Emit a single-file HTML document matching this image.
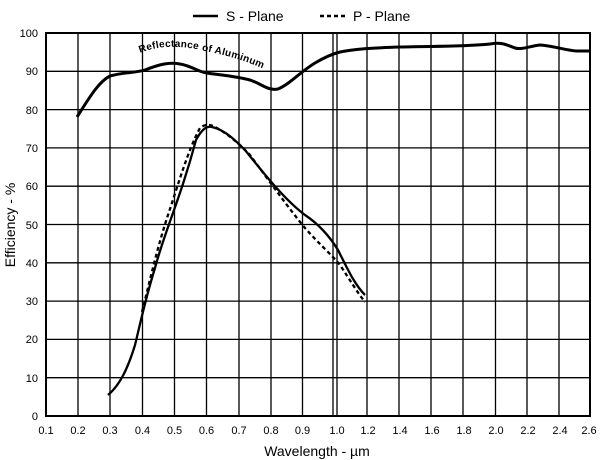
<!DOCTYPE html>
<html><head><meta charset="utf-8"><style>
body{margin:0;background:#fff;}
svg{display:block;font-family:"Liberation Sans",Arial,sans-serif;}
</style></head><body>
<svg width="600" height="460" viewBox="0 0 600 460">
<g stroke="#000" stroke-width="1.3">
<line x1="46" y1="71.3" x2="590" y2="71.3"/><line x1="46" y1="109.6" x2="590" y2="109.6"/>
<line x1="46" y1="147.9" x2="590" y2="147.9"/><line x1="46" y1="186.2" x2="590" y2="186.2"/>
<line x1="46" y1="224.5" x2="590" y2="224.5"/><line x1="46" y1="262.8" x2="590" y2="262.8"/>
<line x1="46" y1="301.1" x2="590" y2="301.1"/><line x1="46" y1="339.4" x2="590" y2="339.4"/>
<line x1="46" y1="377.7" x2="590" y2="377.7"/>
<line x1="78" y1="33" x2="78" y2="416"/><line x1="110" y1="33" x2="110" y2="416"/>
<line x1="142.5" y1="33" x2="142.5" y2="416"/><line x1="174.5" y1="33" x2="174.5" y2="416"/>
<line x1="206.5" y1="33" x2="206.5" y2="416"/><line x1="239" y1="33" x2="239" y2="416"/>
<line x1="271" y1="33" x2="271" y2="416"/><line x1="302.5" y1="33" x2="302.5" y2="416"/>
<line x1="333" y1="33" x2="333" y2="416"/><line x1="337" y1="33" x2="337" y2="416"/>
<line x1="367" y1="33" x2="367" y2="416"/><line x1="399" y1="33" x2="399" y2="416"/>
<line x1="431" y1="33" x2="431" y2="416"/><line x1="463" y1="33" x2="463" y2="416"/>
<line x1="495.5" y1="33" x2="495.5" y2="416"/><line x1="527" y1="33" x2="527" y2="416"/>
<line x1="559" y1="33" x2="559" y2="416"/>
</g>
<rect x="46" y="33" width="544" height="383" fill="none" stroke="#000" stroke-width="2"/>
<g font-size="11" text-anchor="end">
<text x="38" y="37">100</text><text x="38" y="75">90</text><text x="38" y="114">80</text>
<text x="38" y="152">70</text><text x="38" y="190">60</text><text x="38" y="229">50</text>
<text x="38" y="267">40</text><text x="38" y="305">30</text><text x="38" y="343">20</text>
<text x="38" y="382">10</text><text x="38" y="420">0</text>
</g>
<g font-size="11" text-anchor="middle">
<text x="46" y="434">0.1</text><text x="78" y="434">0.2</text><text x="110" y="434">0.3</text>
<text x="142.5" y="434">0.4</text><text x="174.5" y="434">0.5</text><text x="206.5" y="434">0.6</text>
<text x="239" y="434">0.7</text><text x="271" y="434">0.8</text><text x="302.5" y="434">0.9</text>
<text x="337" y="434">1.0</text><text x="368" y="434">1.2</text><text x="400" y="434">1.4</text>
<text x="432" y="434">1.6</text><text x="464" y="434">1.8</text><text x="496" y="434">2.0</text>
<text x="528" y="434">2.2</text><text x="560" y="434">2.4</text><text x="589" y="434">2.6</text>
</g>
<text x="317" y="456" font-size="14" text-anchor="middle">Wavelength - µm</text>
<text transform="translate(15,225) rotate(-90)" font-size="14" text-anchor="middle">Efficiency - %</text>
<line x1="193" y1="16" x2="218" y2="16" stroke="#000" stroke-width="2.5"/>
<text x="226" y="21" font-size="14">S - Plane</text>
<line x1="320" y1="16" x2="345" y2="16" stroke="#000" stroke-width="2.5" stroke-dasharray="4,3"/>
<text x="353" y="21" font-size="14">P - Plane</text>
<g fill="none" stroke="#000" stroke-width="3" stroke-linejoin="round">
<path d="M77,117 C88,100 98,82 110,76 C125,72 135,73 145,70 C160,64 170,62 180,64 C192,66 198,72 207,73 C220,75 235,76 250,80 C262,84 268,91 278,89 C290,84 300,72 315,63 C325,57 332,54 340,52 C355,49 370,48 400,47 C430,46 460,47 490,44 C500,42 505,44 515,48 C522,50 530,46 540,45 C555,46 568,51 578,51 L590,51"/>
<path d="M108,395 C120,385 128,368 135,345 C140,325 145,300 155,268 C165,230 180,200 196,140 C203,127 208,126 212,127 C225,130 235,140 245,150 C265,175 285,200 305,215 C320,225 330,237 338,250 C348,270 355,285 365,295" stroke-width="2.3"/>
<path d="M142,312 C150,280 158,245 168,215 C178,185 188,150 200,128 C205,124 210,124 215,127 C230,135 240,145 250,155 C270,182 290,210 305,228 C320,245 332,255 340,265 C350,280 357,292 365,302" stroke-width="2.3" stroke-dasharray="4,3"/>
</g>
<path id="tp" d="M140,53 C160,45 180,45 205,51 C225,55 245,60 268,71" fill="none"/>
<text font-size="10" font-weight="bold" letter-spacing="0.3"><textPath href="#tp">Reflectance  of  Aluminum</textPath></text>
</svg>
</body></html>
